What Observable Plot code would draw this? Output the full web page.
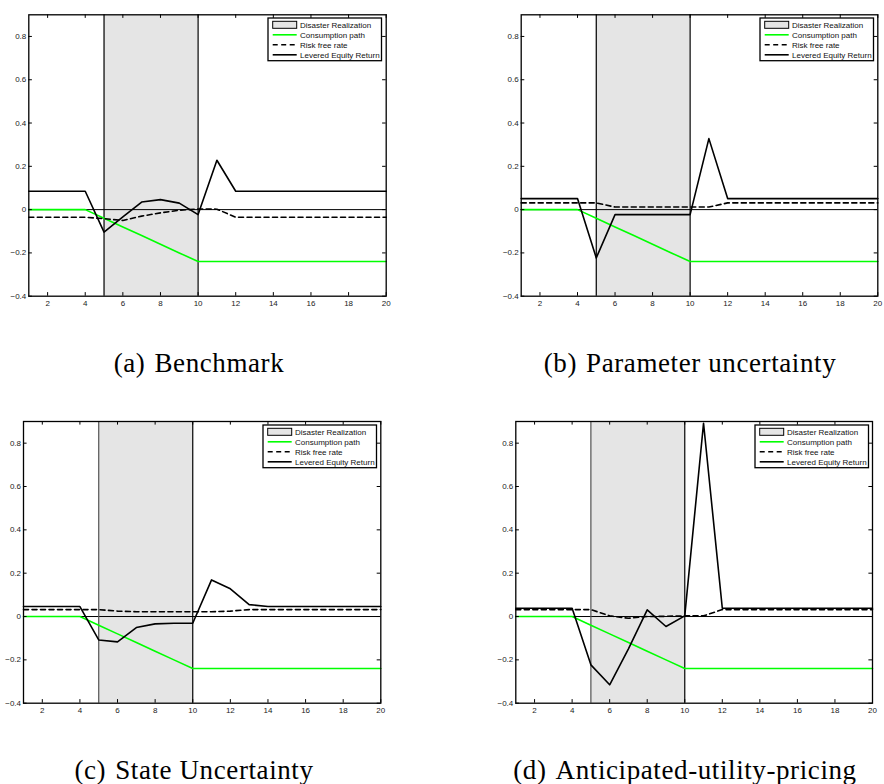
<!DOCTYPE html>
<html>
<head>
<meta charset="utf-8">
<script src="https://cdn.jsdelivr.net/npm/d3@7"></script>
<script src="https://cdn.jsdelivr.net/npm/@observablehq/plot@0.6"></script>
<style>
  html, body { margin: 0; padding: 0; background: #fff; }
  #root { position: relative; width: 884px; height: 784px; background: #fff; overflow: hidden; }
  .panel { position: absolute; width: 442px; height: 320px; }
  .panel svg { overflow: visible; }
  .caption { position: absolute; width: 420px; text-align: center; font-family: "Liberation Serif", serif;
             font-size: 27px; line-height: 27px; letter-spacing: 0.6px; color: #000; white-space: nowrap; }
  .caption .lab { margin-right: 9px; }
</style>
</head>
<body>
<div id="root"></div>
<script>
// ---------- data ----------
const periods = [1,2,3,4,5,6,7,8,9,10,11,12,13,14,15,16,17,18,19,20];
const xTicks = [2,4,6,8,10,12,14,16,18,20];
const yTicks = [-0.4,-0.2,0,0.2,0.4,0.6,0.8];
const disasterStart = 5;
const disasterEnd = 10;

const consumption = [0,0,0,0,-0.04,-0.08,-0.12,-0.16,-0.20,-0.24,-0.24,-0.24,-0.24,-0.24,-0.24,-0.24,-0.24,-0.24,-0.24,-0.24];

// (a) Benchmark
const riskFreeA = [-0.035,-0.035,-0.035,-0.035,-0.042,-0.05,-0.03,-0.015,-0.003,0.003,0.002,-0.035,-0.035,-0.035,-0.035,-0.035,-0.035,-0.035,-0.035,-0.035];
const equityA   = [0.085,0.085,0.085,0.085,-0.104,-0.034,0.035,0.046,0.030,-0.023,0.228,0.085,0.085,0.085,0.085,0.085,0.085,0.085,0.085,0.085];
// (b) Parameter uncertainty
const riskFreeB = [0.031,0.031,0.031,0.031,0.031,0.012,0.012,0.012,0.012,0.012,0.012,0.031,0.031,0.031,0.031,0.031,0.031,0.031,0.031,0.031];
const equityB   = [0.051,0.051,0.051,0.051,-0.223,-0.023,-0.023,-0.023,-0.023,-0.023,0.328,0.051,0.051,0.051,0.051,0.051,0.051,0.051,0.051,0.051];
// (c) State Uncertainty
const riskFreeC = [0.032,0.032,0.032,0.032,0.032,0.025,0.022,0.022,0.022,0.022,0.022,0.025,0.032,0.032,0.032,0.032,0.032,0.032,0.032,0.032];
const equityC   = [0.046,0.046,0.046,0.046,-0.108,-0.117,-0.051,-0.034,-0.031,-0.031,0.169,0.128,0.055,0.046,0.046,0.046,0.046,0.046,0.046,0.046];
// (d) Anticipated-utility-pricing
const riskFreeD = [0.032,0.032,0.032,0.032,0.032,0.003,-0.008,0.000,0.001,0.003,0.003,0.032,0.032,0.032,0.032,0.032,0.032,0.032,0.032,0.032];
const equityD   = [0.038,0.038,0.038,0.038,-0.223,-0.315,-0.149,0.031,-0.046,0.003,0.892,0.038,0.038,0.038,0.038,0.038,0.038,0.038,0.038,0.038];

const legendLabels = ["Disaster Realization","Consumption path","Risk free rate","Levered Equity Return"];
const captionLabels = ["(a)","(b)","(c)","(d)"];
const captionTitles = ["Benchmark","Parameter uncertainty","State Uncertainty","Anticipated-utility-pricing"];

// ---------- layout ----------
const panels = [
  {left: 0,   top: 0,   mL: 28.3, mR: 56.3, mT: 14.3, mB: 24.3, rf: riskFreeA, eq: equityA, edge5: "#000", capX: 199, capBase: 373},
  {left: 442, top: 0,   mL: 78.7, mR: 6.7,  mT: 14.3, mB: 24.3, rf: riskFreeB, eq: equityB, edge5: "#000", capX: 690, capBase: 373},
  {left: 0,   top: 410, mL: 23,   mR: 61.7, mT: 11,   mB: 27.3, rf: riskFreeC, eq: equityC, edge5: "#555", capX: 194, capBase: 780},
  {left: 442, top: 410, mL: 73.3, mR: 12,   mT: 11,   mB: 27.3, rf: riskFreeD, eq: equityD, edge5: "#555", capX: 685, capBase: 780}
];

const W = 442, H = 320;
const root = document.getElementById("root");
const fmt = d => d < 0 ? "\u2212" + String(Math.abs(d)) : String(d);

panels.forEach((p, k) => {
  const rows = periods.map((t, i) => ({t, c: consumption[i], rf: p.rf[i], eq: p.eq[i]}));
  const tx = 19 * 3.6 / (W - p.mL - p.mR);      // tick length in x units
  const ty = 1.3 * 3.6 / (H - p.mT - p.mB);     // tick length in y units
  const chart = Plot.plot({
    width: W, height: H,
    marginLeft: p.mL, marginRight: p.mR, marginTop: p.mT, marginBottom: p.mB,
    x: {domain: [1, 20]},
    y: {domain: [-0.4, 0.9]},
    style: {fontFamily: "'Liberation Sans', Arial, sans-serif", fontSize: "8px", background: "transparent", color: "#000"},
    marks: [
      Plot.rect([{s: disasterStart, e: disasterEnd}], {x1: "s", x2: "e", fill: "#e5e5e5"}),
      Plot.ruleY([0], {stroke: "#000", strokeWidth: 1}),
      Plot.ruleX([disasterStart], {stroke: p.edge5, strokeWidth: 1.2}),
      Plot.ruleX([disasterEnd], {stroke: "#000", strokeWidth: 1.2}),
      Plot.line(rows, {x: "t", y: "c", stroke: "#00ff00", strokeWidth: 1.6}),
      Plot.line(rows, {x: "t", y: "rf", stroke: "#000", strokeWidth: 1.6, strokeDasharray: "5,3.5"}),
      Plot.line(rows, {x: "t", y: "eq", stroke: "#000", strokeWidth: 1.6}),
      // inward ticks (MATLAB box style)
      Plot.ruleX(xTicks, {x: d => d, y1: () => -0.4, y2: () => -0.4 + ty, stroke: "#000", strokeWidth: 1}),
      Plot.ruleX(xTicks, {x: d => d, y1: () => 0.9 - ty, y2: () => 0.9, stroke: "#000", strokeWidth: 1}),
      Plot.ruleY(yTicks, {y: d => d, x1: () => 1, x2: () => 1 + tx, stroke: "#000", strokeWidth: 1}),
      Plot.ruleY(yTicks, {y: d => d, x1: () => 20 - tx, x2: () => 20, stroke: "#000", strokeWidth: 1}),
      Plot.axisX({ticks: xTicks, tickSize: 0, tickPadding: 4, tickFormat: fmt, fill: "#222"}),
      Plot.axisY({ticks: yTicks, tickSize: 0, tickPadding: 2.5, tickFormat: fmt, fill: "#222"}),
      Plot.frame({stroke: "#000", strokeWidth: 1.3})
    ]
  });
  const div = document.createElement("div");
  div.className = "panel";
  div.style.left = p.left + "px";
  div.style.top = p.top + "px";
  div.appendChild(chart);
  root.appendChild(div);

  // legend (inside top-right of plot area)
  const lw = 113.5, lh = 42.7;
  const plotRight = W - p.mR;
  const lx = p.left + plotRight - 4 - lw;
  const ly = p.top + p.mT + 4;
  const lg = d3.create("svg").attr("width", lw + 2).attr("height", lh + 2)
    .style("position", "absolute").style("left", (lx - 1) + "px").style("top", (ly - 1) + "px")
    .style("overflow", "visible");
  lg.append("rect").attr("x", 1).attr("y", 1).attr("width", lw).attr("height", lh)
    .attr("fill", "#fff").attr("stroke", "#000").attr("stroke-width", 1.3);
  legendLabels.forEach((lab, i) => {
    const cy = 1 + 6.8 + i * 10;
    const sx0 = 1 + 4.7, sx1 = 1 + 28.7;
    if (i === 0) {
      lg.append("rect").attr("x", sx0).attr("y", cy - 3.5).attr("width", sx1 - sx0).attr("height", 7)
        .attr("fill", "#e5e5e5").attr("stroke", "#000").attr("stroke-width", 1);
    } else {
      lg.append("line").attr("x1", sx0).attr("x2", sx1).attr("y1", cy).attr("y2", cy)
        .attr("stroke", i === 1 ? "#00ff00" : "#000").attr("stroke-width", 1.6)
        .attr("stroke-dasharray", i === 2 ? "5,3.5" : null);
    }
    lg.append("text").attr("x", 1 + 32).attr("y", cy).attr("dy", "0.35em")
      .attr("font-family", "'Liberation Sans', Arial, sans-serif").attr("font-size", 8)
      .attr("fill", "#111").text(lab);
  });
  root.appendChild(lg.node());

  // caption
  const cap = document.createElement("div");
  cap.className = "caption";
  const lab = document.createElement("span");
  lab.className = "lab";
  lab.textContent = captionLabels[k];
  cap.appendChild(lab);
  cap.appendChild(document.createTextNode(captionTitles[k]));
  cap.style.left = (p.capX - 210) + "px";
  cap.style.top = (p.capBase - 22.6) + "px";
  root.appendChild(cap);
});
</script>
</body>
</html>
